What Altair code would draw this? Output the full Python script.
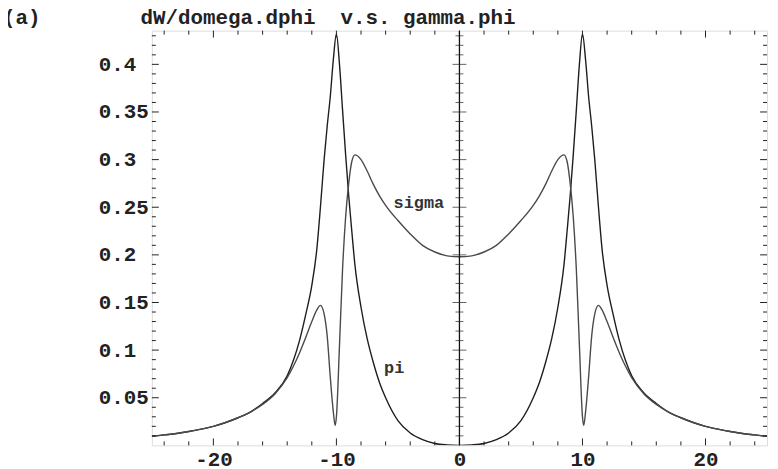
import altair as alt
import pandas as pd

# ---- data ----
pi_x = [-25, -24, -23, -22, -21, -20, -19, -18, -17, -16, -15, -14, -13.5, -13, -12.5, -12, -11.6, -11.3,
        -11, -10.75, -10.5, -10.25, -10, -9.75, -9.5, -9.25, -9, -8.75, -8.5, -8, -7.5, -7, -6.5, -6, -5,
        -4, -3, -2, -1, 0, 1, 2, 3, 4, 5, 6, 6.5, 7, 7.5, 8, 8.5, 8.75, 9, 9.25, 9.5, 9.75, 10, 10.25,
        10.5, 10.75, 11, 11.3, 11.6, 12, 12.5, 13, 13.5, 14, 15, 16, 17, 18, 19, 20, 21, 22, 23, 24, 25]
pi_y = [0.0095, 0.011, 0.0125, 0.0145, 0.017, 0.020, 0.024, 0.029, 0.035, 0.044, 0.055, 0.073, 0.089, 0.110,
        0.137, 0.168, 0.205, 0.250, 0.300, 0.335, 0.366, 0.405, 0.432, 0.400, 0.352, 0.305, 0.262, 0.225,
        0.190, 0.145, 0.112, 0.087, 0.066, 0.050, 0.026, 0.013, 0.006, 0.002, 0.0005, 0.0, 0.0005, 0.002,
        0.006, 0.013, 0.026, 0.050, 0.066, 0.087, 0.112, 0.145, 0.190, 0.225, 0.262, 0.305, 0.352, 0.400,
        0.432, 0.405, 0.366, 0.335, 0.300, 0.250, 0.205, 0.168, 0.137, 0.110, 0.089, 0.073, 0.055, 0.044,
        0.035, 0.029, 0.024, 0.020, 0.017, 0.0145, 0.0125, 0.011, 0.0095]

sigma_x = [-25, -24, -23, -22, -21, -20, -19, -18, -17, -16, -15, -14, -13.5, -13, -12.5, -12, -11.6, -11.3,
           -11, -10.75, -10.5, -10.25, -10.1, -10, -9.75, -9.5, -9.25, -9, -8.75, -8.5, -8, -7.5, -7, -6.5,
           -6, -5, -4, -3, -2, -1, 0, 1, 2, 3, 4, 5, 6, 6.5, 7, 7.5, 8, 8.5, 8.75, 9, 9.25, 9.5, 9.75, 10,
           10.1, 10.25, 10.5, 10.75, 11, 11.3, 11.6, 12, 12.5, 13, 13.5, 14, 15, 16, 17, 18, 19, 20, 21, 22,
           23, 24, 25]
sigma_y = [0.0095, 0.011, 0.0125, 0.0145, 0.017, 0.020, 0.024, 0.029, 0.035, 0.043, 0.054, 0.071, 0.083,
           0.097, 0.113, 0.130, 0.142, 0.147, 0.138, 0.115, 0.072, 0.035, 0.021, 0.030, 0.105, 0.185, 0.240,
           0.275, 0.298, 0.305, 0.300, 0.288, 0.274, 0.262, 0.252, 0.236, 0.222, 0.210, 0.203, 0.199, 0.198,
           0.199, 0.203, 0.210, 0.222, 0.236, 0.252, 0.262, 0.274, 0.288, 0.300, 0.305, 0.298, 0.275, 0.240,
           0.185, 0.105, 0.030, 0.021, 0.035, 0.072, 0.115, 0.138, 0.147, 0.142, 0.130, 0.113, 0.097, 0.083,
           0.071, 0.054, 0.043, 0.035, 0.029, 0.024, 0.020, 0.017, 0.0145, 0.0125, 0.011, 0.0095]

x_major = [-20, -10, 0, 10, 20]
x_minor = [-24, -22, -18, -16, -14, -12, -8, -6, -4, -2, 2, 4, 6, 8, 12, 14, 16, 18, 22, 24]
y_major = [0.05, 0.1, 0.15, 0.2, 0.25, 0.3, 0.35, 0.4]
y_minor = [0.01, 0.02, 0.03, 0.04, 0.06, 0.07, 0.08, 0.09, 0.11, 0.12, 0.13, 0.14, 0.16, 0.17, 0.18,
           0.19, 0.21, 0.22, 0.23, 0.24, 0.26, 0.27, 0.28, 0.29, 0.31, 0.32, 0.33, 0.34, 0.36, 0.37,
           0.38, 0.39, 0.41, 0.42, 0.43]

labels = ["sigma", "pi"]
label_x = [-3.3, -5.3]
label_y = [0.254, 0.081]

title_text = "(a)" + "\u00a0" * 8 + "dW/domega.dphi\u00a0\u00a0v.s.\u00a0gamma.phi"

# ---- build ----
FONT = "Liberation Mono"
W, H = 620, 418
xs = alt.Scale(domain=[-25, 25], nice=False, zero=False)
ys = alt.Scale(domain=[0, 0.4354], nice=False, zero=False)

curves = pd.concat([
    pd.DataFrame({"x": pi_x, "y": pi_y, "s": "pi"}),
    pd.DataFrame({"x": sigma_x, "y": sigma_y, "s": "sigma"}),
])

xaxis = alt.Axis(values=x_major, labelExpr="datum.value < 0 ? '-' + abs(datum.value) : '' + datum.value",
                 tickSize=0, ticks=False, domain=False, grid=False, labelPadding=3,
                 labelBaseline="top", labelFont=FONT, labelFontSize=21, labelFontWeight="bold",
                 labelColor="#222", labelFlush=False, labelOverlap=False, title=None)
yaxis = alt.Axis(values=y_major, labelExpr="format(datum.value, '.2~f')", labelAlign="left",
                 labelPadding=54, tickSize=0, ticks=False, domain=False, grid=False,
                 labelFont=FONT, labelFontSize=21, labelFontWeight="bold", labelColor="#222",
                 labelFlush=False, labelOverlap=False, title=None)

X = lambda f: alt.X(f, scale=xs, axis=xaxis, title=None)
Y = lambda f: alt.Y(f, scale=ys, axis=yaxis, title=None)

lines = alt.Chart(curves).mark_line(interpolate="monotone", strokeWidth=1.4, clip=True).encode(
    x=X("x:Q"),
    y=Y("y:Q"),
    color=alt.Color("s:N", scale=alt.Scale(domain=["pi", "sigma"], range=["#1e1e1e", "#4a4a4a"]),
                    legend=None),
    detail="s:N",
)

def xticks(vals, y0, y1):
    return alt.Chart(pd.DataFrame({"x": vals})).mark_rule(color="#222", strokeWidth=1).encode(
        x=X("x:Q"), y=alt.value(y0), y2=alt.value(y1))

def yticks(vals, x0, x1):
    return alt.Chart(pd.DataFrame({"y": vals})).mark_rule(color="#222", strokeWidth=1).encode(
        y=Y("y:Q"), x=alt.value(x0), x2=alt.value(x1))

def zticks(vals, size):
    return alt.Chart(pd.DataFrame({"y": vals, "x": [0] * len(vals)})).mark_tick(
        orient="horizontal", size=size, thickness=1, color="#222").encode(
        x=X("x:Q"), y=Y("y:Q"))

zero_axis = alt.Chart(pd.DataFrame({"x": [0]})).mark_rule(color="#111", strokeWidth=1.3).encode(
    x=X("x:Q"), y=alt.value(0), y2=alt.value(H))

text = alt.Chart(pd.DataFrame({"t": labels, "x": label_x, "y": label_y})).mark_text(
    font=FONT, fontSize=17, fontWeight="bold", color="#333").encode(
    x=X("x:Q"), y=Y("y:Q"), text="t:N")

title = alt.Chart(pd.DataFrame({"t": [title_text]})).mark_text(
    font=FONT, fontSize=21, fontWeight="bold", color="#222", align="left", baseline="alphabetic").encode(
    x=alt.value(-150), y=alt.value(-7), text="t:N")

chart = alt.layer(
    lines,
    xticks(x_major, H, H - 7), xticks(x_minor, H, H - 4),
    xticks(x_major, 0, 7), xticks(x_minor, 0, 4),
    yticks(y_major, 0, 7), yticks(y_minor, 0, 4),
    yticks(y_major, W, W - 7), yticks(y_minor, W, W - 4),
    zero_axis, zticks(y_major, 14), zticks(y_minor, 8),
    text, title,
).properties(
    width=W, height=H,
    autosize=alt.AutoSizeParams(type="none"),
    padding={"left": 145, "top": 21, "right": 3, "bottom": 22},
).configure_view(stroke="#222", strokeWidth=1).configure(background="white")

chart.save("out.html", embed_options={"renderer": "svg", "actions": False})
